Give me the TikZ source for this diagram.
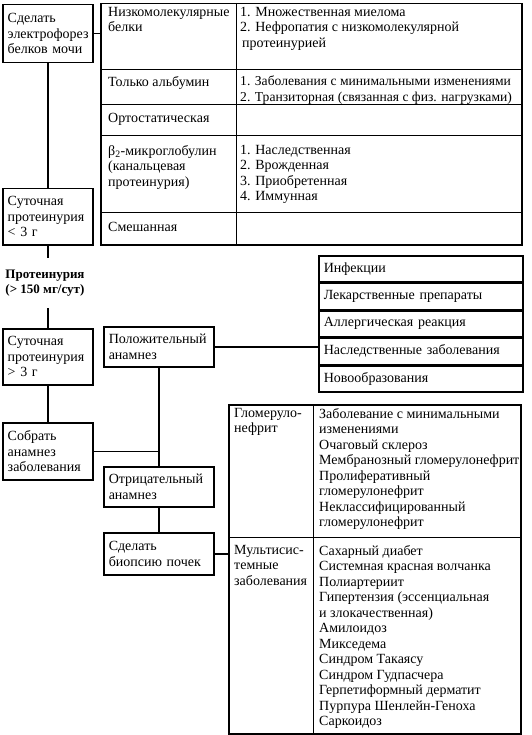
\documentclass[tikz,border=0pt]{standalone}
\usepackage{fontspec}
\setmainfont{Liberation Serif}
\usetikzlibrary{positioning}
\newcommand{\tabfont}{\fontsize{14}{15.5}\selectfont}
\tikzset{
  stepbox/.style={draw, line width=1.5pt, anchor=north west,
    align=left, text width=80pt, inner xsep=5pt, inner ysep=3pt,
    font=\tabfont},
  midbox/.style={stepbox, text width=100pt},
  listbox/.style={draw, line width=1.5pt, anchor=north west,
    align=left, text width=194pt, inner xsep=5pt,
    minimum height=26pt, font=\tabfont},
  tabframe/.style={draw, line width=1.5pt, anchor=north west,
    inner sep=0pt},
  grid/.style={line width=0.8pt},
  celltext/.style={anchor=north west, align=left, inner sep=0pt,
    font=\tabfont},
  link/.style={line width=1.5pt},
}
\begin{document}
\begin{tikzpicture}[x=1pt, y=-1pt]
  \useasboundingbox (0,0) rectangle (531,735);

  % left column
  \node[stepbox, minimum height=58pt] (electro) at (2,4)
    {Сделать\\электрофорез\\белков мочи};
  \node[stepbox, minimum height=56pt] (daylow) at (2,188)
    {Суточная\\протеинурия\\< 3 г};
  \node[font=\fontsize{13}{15.5}\selectfont\bfseries, align=left,
        minimum height=50pt, inner sep=0pt] (prot) at (45,283)
    {Протеинурия\\(> 150 мг/сут)};
  \node[stepbox, minimum height=56pt] (dayhigh) at (2,328)
    {Суточная\\протеинурия\\> 3 г};
  \node[stepbox, minimum height=57pt] (anam) at (2,422)
    {Собрать\\анамнез\\заболевания};

  % middle column
  \node[midbox, minimum height=40pt] (pos) at (103,326)
    {Положительный\\анамнез};
  \node[midbox, minimum height=40pt] (neg) at (103,466)
    {Отрицательный\\анамнез};
  \node[midbox, minimum height=42pt] (biop) at (103,532)
    {Сделать\\биопсию почек};

  % table of electrophoresis results
  \node[tabframe, minimum width=421pt, minimum height=241pt] (tabA)
    at (100,3) {};
  \draw[grid] (236,3) -- (236,244);
  \foreach \y in {69,104,135,212}
    \draw[grid] (100,\y) -- (521,\y);
  \node[celltext] (lowmol) at (108,7) {Низкомолекулярные\\белки};
  \node[celltext] (lowmolx) at (240,7)
    {1. Множественная миелома\\2. Нефропатия с низкомолекулярной\\
     \hspace*{2pt}протеинурией};
  \node[celltext] (albu) at (108,76) {Только альбумин};
  \node[celltext, font=\fontsize{13.6}{15.5}\selectfont] (albux)
    at (240,76)
    {1. Заболевания с минимальными изменениями\\
     2. Транзиторная (связанная с физ. нагрузками)};
  \node[celltext] (ortho) at (108,113) {Ортостатическая};
  \node[celltext] (beta) at (108,145)
    {β\textsubscript{2}-микроглобулин\\(канальцевая\\протеинурия)};
  \node[celltext] (betax) at (240,145)
    {1. Наследственная\\2. Врожденная\\3. Приобретенная\\4. Иммунная};
  \node[celltext] (mixed) at (108,222) {Смешанная};

  % causes of positive history
  \node[listbox] (infect) at (318,255) {Инфекции};
  \node[listbox, below=0pt of infect] (drugs) {Лекарственные препараты};
  \node[listbox, below=0pt of drugs] (allerg) {Аллергическая реакция};
  \node[listbox, below=0pt of allerg] (hered) {Наследственные заболевания};
  \node[listbox, below=0pt of hered] (neopl) {Новообразования};

  % table of biopsy results
  \node[tabframe, minimum width=292pt, minimum height=329pt] (tabB)
    at (228,404) {};
  \draw[grid] (313,404) -- (313,733);
  \draw[grid] (228,537) -- (520,537);
  \node[celltext] (glom) at (234,408) {Гломеруло-\\нефрит};
  \node[celltext] (glomx) at (319,408)
    {Заболевание с минимальными\\изменениями\\Очаговый склероз\\
     Мембранозный гломерулонефрит\\Пролиферативный\\гломерулонефрит\\
     Неклассифицированный\\гломерулонефрит};
  \node[celltext] (multi) at (234,545)
    {Мультисис-\\темные\\заболевания};
  \node[celltext] (multix) at (319,545)
    {Сахарный диабет\\Системная красная волчанка\\Полиартериит\\
     Гипертензия (эссенциальная\\и злокачественная)\\Амилоидоз\\
     Микседема\\Синдром Такаясу\\Синдром Гудпасчера\\
     Герпетиформный дерматит\\Пурпура Шенлейн-Геноха\\Саркоидоз};

  % connectors
  \draw[link] (electro.east) -- (electro.east -| tabA.west);
  \draw[link] (electro.south) -- (daylow.north);
  \draw[link] (daylow.south) -- (daylow.south |- prot.north);
  \draw[link] (dayhigh.north |- prot.south) -- (dayhigh.north);
  \draw[link] (dayhigh.south) -- (anam.north);
  \draw[link] (anam.east) -- (anam.east -| pos.south);
  \draw[link] (pos.east) -- (pos.east -| hered.west);
  \draw[link] (pos.south) -- (neg.north);
  \draw[link] (neg.south) -- (biop.north);
  \draw[link] (biop.east) -- (biop.east -| tabB.west);
\end{tikzpicture}
\end{document}
